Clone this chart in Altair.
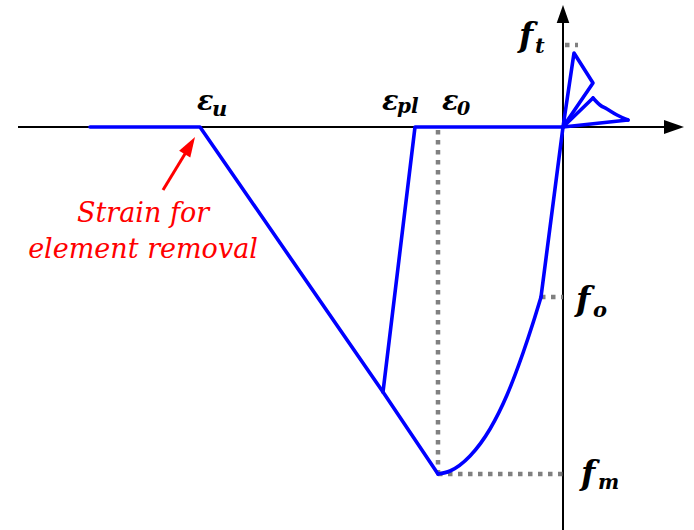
import altair as alt
import pandas as pd

# Schematic concrete stress-strain law: strain on x (negative = compression),
# stress on y (negative = compression). Units are arbitrary schematic units.
X_DOMAIN = [-563, 131]
Y_DOMAIN = [-403, 127]

# Characteristic values
eps_u, eps_pl, eps_0 = -363, -148, -125
f_m, f_o, f_t = -347, -170, 82

# Straight part of the compression envelope: origin -> f_o
pre_strain = [0, -22]
pre_stress = [0, f_o]

# Curved rise from the peak (eps_0, f_m) up to f_o
rise_strain = [eps_0, -113, -93, -73, -56, -40, -30, -22]
rise_stress = [f_m, -344, -329, -302, -268, -226, -196, f_o]

# Linear softening from the peak to eps_u, then zero stress
soft_strain = [eps_0, -180, eps_u, -473]
soft_stress = [f_m, -265, 0, 0]

# Unloading branch from the softening line down to the plastic strain
unl_strain = [-180, eps_pl, 0]
unl_stress = [-265, 0, 0]

# Tension cycles
ten_strain = [0, 11, 30, 0]
ten_stress = [0, 74, 44, 0]
ten2_strain = [0, 30, 37, 44, 54, 65, 0]
ten2_stress = [0, 29, 22, 18, 12, 7, 0]


def branch(name, xs_, ys_):
    return [{"branch": name, "step": i, "strain": a, "stress": b}
            for i, (a, b) in enumerate(zip(xs_, ys_))]


straight = pd.DataFrame(
    branch("pre", pre_strain, pre_stress)
    + branch("soft", soft_strain, soft_stress)
    + branch("unl", unl_strain, unl_stress)
    + branch("ten", ten_strain, ten_stress)
    + branch("ten2a", ten2_strain[:2], ten2_stress[:2])
    + branch("ten2c", ten2_strain[-2:], ten2_stress[-2:])
)
curved = pd.DataFrame(
    branch("rise", rise_strain, rise_stress)
    + branch("decay", ten2_strain[1:-1], ten2_stress[1:-1])
)

xs = alt.Scale(domain=X_DOMAIN, nice=False, zero=False)
ys = alt.Scale(domain=Y_DOMAIN, nice=False, zero=False)


def X(field="strain"):
    return alt.X(f"{field}:Q", scale=xs, axis=None)


def Y(field="stress"):
    return alt.Y(f"{field}:Q", scale=ys, axis=None)


# Axes drawn as rules with arrowheads
axes_df = pd.DataFrame({
    "x1": [-545, 0], "x2": [108, 0],
    "y1": [0, -403], "y2": [0, 108],
})
axes = alt.Chart(axes_df).mark_rule(color="black", strokeWidth=2).encode(
    x=X("x1"), x2="x2", y=Y("y1"), y2="y2"
)

x_head = alt.Chart(pd.DataFrame({"x": [121], "y": [0]})).mark_point(
    shape="M0,0L-2,-0.7L-2,0.7Z", filled=True, size=400, color="black",
    opacity=1, strokeWidth=0
).encode(x=X("x"), y=Y("y"))

y_head = alt.Chart(pd.DataFrame({"x": [0], "y": [122]})).mark_point(
    shape="M0,0L-0.7,2L0.7,2Z", filled=True, size=324, color="black",
    opacity=1, strokeWidth=0
).encode(x=X("x"), y=Y("y"))

# Dotted guide lines to the characteristic values
guides_df = pd.DataFrame({
    "x1": [eps_0, eps_0, -22, 2],
    "x2": [eps_0, 0, 0, 15],
    "y1": [-3, f_m, f_o, f_t],
    "y2": [f_m, f_m, f_o, f_t],
})
guides = alt.Chart(guides_df).mark_rule(
    color="#808080", strokeWidth=4.5, strokeDash=[4.5, 5.5], strokeCap="butt"
).encode(x=X("x1"), x2="x2", y=Y("y1"), y2="y2")

line_style = dict(color="#0000ff", strokeWidth=3.6, strokeJoin="round", strokeCap="round")
lines = alt.Chart(straight).mark_line(**line_style).encode(
    x=X(), y=Y(), detail="branch:N", order="step:Q"
)
curves = alt.Chart(curved).mark_line(interpolate="monotone", **line_style).encode(
    x=X(), y=Y(), detail="branch:N", order="step:Q"
)

# Red annotation arrow pointing at eps_u
arrow_df = pd.DataFrame({"x1": [-400], "y1": [-63], "x2": [-372], "y2": [-17]})
arrow_line = alt.Chart(arrow_df).mark_rule(color="#ff0000", strokeWidth=3).encode(
    x=X("x1"), x2="x2", y=Y("y1"), y2="y2"
)
arrow_head = alt.Chart(pd.DataFrame({"x": [-368], "y": [-10]})).mark_point(
    shape="M0,0L0.65,2L-0.65,2Z", filled=True, size=400, color="#ff0000",
    opacity=1, strokeWidth=0, angle=31
).encode(x=X("x"), y=Y("y"))

SERIF = "DejaVu Serif"


def label(text, x, y, dx, dy, size, bold=True, color="black", align="left"):
    return alt.Chart(pd.DataFrame({"x": [x], "y": [y]})).mark_text(
        text=text, dx=dx, dy=dy, fontSize=size, font=SERIF,
        fontStyle="italic", fontWeight="bold" if bold else "normal",
        color=color, align=align, baseline="alphabetic"
    ).encode(x=X("x"), y=Y("y"))


labels = [
    label("ε", eps_u, 0, -3, -17, 27), label("u", eps_u, 0, 12, -11, 21),
    label("ε", eps_pl, 0, -33, -17, 27), label("pl", eps_pl, 0, -18, -14, 20),
    label("ε", eps_0, 0, 4, -17, 27), label("0", eps_0, 0, 19, -12, 19),
    label("f", 0, f_t, -44, 2, 33), label("t", 0, f_t, -28, 8, 21),
    label("f", 0, f_o, 13, 14, 33), label("o", 0, f_o, 30, 20, 21),
    label("f", 0, f_m, 18, 11, 33), label("m", 0, f_m, 35, 15, 20),
    label("Strain for", -420, -95, 0, 0, 27, bold=False, color="#ff0000", align="center"),
    label("element removal", -420, -131, 0, 0, 27, bold=False, color="#ff0000", align="center"),
]

chart = alt.layer(
    axes, x_head, y_head, guides, lines, curves, arrow_line, arrow_head, *labels
).properties(
    width=694, height=530, padding=0, autosize="none", background="white"
).configure_view(stroke=None)

chart.save("out.html", embed_options={"renderer": "svg", "actions": False})
